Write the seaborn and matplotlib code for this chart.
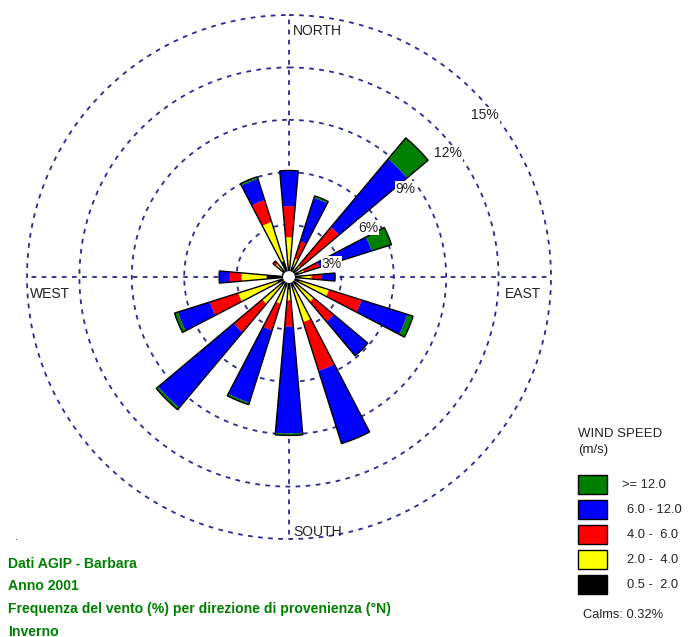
import numpy as np
import pandas as pd
import matplotlib
matplotlib.use("Agg")
import matplotlib.pyplot as plt
from matplotlib.patches import Rectangle
import seaborn as sns

sns.set_theme(style="white")
plt.rcParams["font.family"] = ["Liberation Sans", "DejaVu Sans"]

# Wind directions (direction of origin), clockwise from north
directions = ["N", "NNE", "NE", "ENE", "E", "ESE", "SE", "SSE",
              "S", "SSW", "SW", "WSW", "W", "WNW", "NW", "NNW"]

# Frequency (%) per direction for each wind-speed class (m/s)
freq_05_2 = [0.60, 0.60, 0.50, 0.50, 0.70, 0.60, 0.60, 0.60,
             0.70, 0.60, 0.60, 0.70, 1.28, 0.40, 0.50, 0.95]
freq_2_4 = [1.68, 0.50, 0.35, 0.40, 0.60, 1.80, 1.25, 2.10,
            0.65, 1.00, 1.40, 2.35, 1.44, 0.00, 0.50, 2.35]
freq_4_6 = [1.78, 1.05, 2.89, 0.93, 0.60, 1.96, 1.50, 2.93,
            1.50, 1.60, 2.13, 1.70, 0.67, 0.00, 0.20, 1.32]
freq_6_12 = [2.04, 2.60, 5.09, 3.13, 0.74, 2.75, 2.54, 4.37,
             6.10, 4.34, 5.64, 1.92, 0.61, 0.00, 0.00, 1.28]
freq_12 = [0.00, 0.12, 1.57, 1.19, 0.00, 0.34, 0.00, 0.00,
           0.12, 0.12, 0.15, 0.20, 0.00, 0.00, 0.00, 0.12]

speed_labels = ["0.5 -  2.0", "2.0 -  4.0", "4.0 -  6.0", "6.0 - 12.0", ">= 12.0"]
speed_colors = ["#000000", "#FFFF00", "#FF0000", "#0000FF", "#008000"]
ring_levels = [3, 6, 9, 12, 15]
calms = 0.32

df = pd.DataFrame(
    {lab: vals for lab, vals in zip(speed_labels,
                                    [freq_05_2, freq_2_4, freq_4_6, freq_6_12, freq_12])},
    index=directions,
)

fig = plt.figure(figsize=(6.88, 6.37), dpi=100)
fig.patch.set_facecolor("white")
ax = fig.add_axes([0.03924, 0.1538, 0.7616, 0.8226], projection="polar")
ax.set_theta_zero_location("N")
ax.set_theta_direction(-1)
ax.set_ylim(0, ring_levels[-1])
ax.axis("off")

grid_color = "#2a2a8e"
dash = (0, (2.6, 3.0))
circ = np.linspace(0, 2 * np.pi, 721)
for lvl in ring_levels:
    ax.plot(circ, np.full_like(circ, lvl), color=grid_color, lw=1.3,
            linestyle=dash, zorder=1, clip_on=False)
for ang in [0, 90, 180, 270]:
    a = np.deg2rad(ang)
    ax.plot([a, a], [0, ring_levels[-1]], color=grid_color, lw=1.3,
            linestyle=dash, zorder=1, clip_on=False)

theta = np.deg2rad(np.arange(len(directions)) * 22.5)
width = np.deg2rad(10)
bottom = np.zeros(len(directions))
for lab, col in zip(speed_labels, speed_colors):
    vals = df[lab].to_numpy()
    ax.bar(theta, vals, width=width, bottom=bottom, color=col,
           edgecolor="none", linewidth=0, zorder=3)
    bottom = bottom + vals
# outline around each complete bar
ax.bar(theta, bottom, width=width, bottom=0, facecolor="none",
       edgecolor="black", linewidth=1.0, zorder=4)

# calm circle in the centre
ax.fill(circ, np.full_like(circ, 0.3), color="white", zorder=5)

# ring labels
ring_label_pos = {3: (73, 2.54), 6: (58, 5.34), 9: (53, 8.36),
                  12: (52, 11.56), 15: (50.4, 14.55)}
for lvl in ring_levels:
    ang, rad = ring_label_pos[lvl]
    ax.text(np.deg2rad(ang), rad, f"{lvl}%", ha="center", va="center",
            fontsize=10, color="#222222", zorder=6,
            bbox=dict(facecolor="white", edgecolor="none", pad=0.6))

# compass labels
compass_kw = dict(fontsize=10, color="#222222", va="baseline", ha="left")
fig.text(293 / 688, 1 - 35 / 637, "NORTH", **compass_kw)
fig.text(293 / 688, 1 - 536 / 637, "SOUTH", **compass_kw)
fig.text(30 / 688, 1 - 298 / 637, "WEST", **compass_kw)
fig.text(505 / 688, 1 - 298 / 637, "EAST", **compass_kw)

# legend
fig.text(578 / 688, 1 - 437 / 637, "WIND SPEED", fontsize=9.5, color="#222222",
         va="baseline", ha="left")
fig.text(578 / 688, 1 - 453 / 637, "(m/s)", fontsize=9.5, color="#222222",
         va="baseline", ha="left")
box_tops = [475, 500, 525, 550, 575]
legend_order = list(zip(speed_labels, speed_colors))[::-1]
for (lab, col), top in zip(legend_order, box_tops):
    fig.add_artist(Rectangle((578 / 688, 1 - (top + 19) / 637), 29 / 688, 19 / 637,
                             transform=fig.transFigure, facecolor=col,
                             edgecolor="black", linewidth=1.0))
    xlab = 622 if lab.startswith(">") else 627
    fig.text(xlab / 688, 1 - (top + 10) / 637, lab, fontsize=9.3,
             color="#222222", va="center", ha="left")
fig.text(583 / 688, 1 - 618 / 637, f"Calms: {calms:.2f}%", fontsize=9.3,
         color="#222222", va="baseline", ha="left")

# caption
fig.text(15 / 688, 1 - 540 / 637, ".", fontsize=8, color="#222222",
         va="baseline", ha="left")
caption = ["Dati AGIP - Barbara", "Anno 2001",
           "Frequenza del vento (%) per direzione di provenienza (°N)", "Inverno"]
for i, line in enumerate(caption):
    fig.text(8 / 688, 1 - (568 + 22.5 * i) / 637, line, fontsize=10.1,
             fontweight="bold", color="#008000", va="baseline", ha="left")

fig.savefig("out.png", dpi=100, facecolor="white")
